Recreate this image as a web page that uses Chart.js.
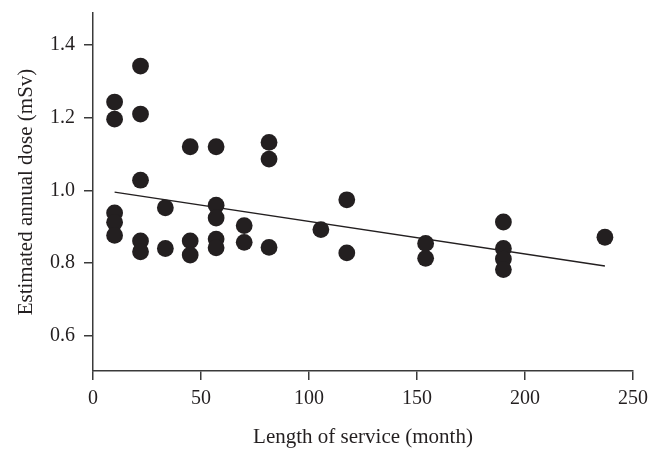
<!DOCTYPE html>
<html>
<head>
<meta charset="utf-8">
<script src="https://cdn.jsdelivr.net/npm/chart.js@4.4.0/dist/chart.umd.min.js"></script>
<style>
  html, body { margin: 0; padding: 0; background: #fff; }
  #wrap { width: 662px; height: 463px; }
</style>
</head>
<body>
<div id="wrap"><canvas id="doseChart"></canvas></div>
<script>
'use strict';

// Scatter data (month, mSv)
const serviceMonths = [
  10, 10, 10, 10, 10,
  22, 22, 22, 22, 22,
  33.5, 33.5,
  45, 45, 45,
  57, 57, 57, 57, 57,
  70, 70,
  81.5, 81.5, 81.5,
  105.5,
  117.5, 117.5,
  154, 154,
  190, 190, 190, 190,
  237
];
const annualDose = [
  1.243, 1.196, 0.938, 0.912, 0.876,
  1.342, 1.21, 1.028, 0.861, 0.831,
  0.952, 0.840,
  1.12, 0.861, 0.822,
  1.12, 0.959, 0.924, 0.866, 0.842,
  0.903, 0.857,
  1.132, 1.086, 0.843,
  0.892,
  0.974, 0.828,
  0.854, 0.813,
  0.913, 0.840, 0.811, 0.782,
  0.871
];

// Regression line end points
const fitMonths = [10, 237];
const fitDose = [0.995, 0.792];

const xTicks = [0, 50, 100, 150, 200, 250];
const yTicks = [0.6, 0.8, 1.0, 1.2, 1.4];

const ink = '#231f20';
const axisInk = '#3a3a3a';
const serif = "'Liberation Serif', 'DejaVu Serif', serif";

const toPoints = (xs, ys) => xs.map((x, i) => ({ x: x, y: ys[i] }));

const ctx = document.getElementById('doseChart').getContext('2d');
new Chart(ctx, {
  type: 'scatter',
  data: {
    datasets: [
      {
        label: 'Dose',
        data: toPoints(serviceMonths, annualDose),
        backgroundColor: ink,
        borderColor: ink,
        borderWidth: 0,
        pointRadius: 8.4,
        pointHoverRadius: 8.4,
        order: 0
      },
      {
        label: 'Fit',
        type: 'line',
        data: toPoints(fitMonths, fitDose),
        borderColor: ink,
        borderWidth: 1.4,
        pointRadius: 0,
        fill: false,
        order: 1
      }
    ]
  },
  options: {
    responsive: true,
    maintainAspectRatio: false,
    animation: false,
    layout: { padding: { top: 13, right: 29, left: 0, bottom: 0 } },
    plugins: { legend: { display: false }, tooltip: { enabled: false } },
    scales: {
      x: {
        type: 'linear',
        min: 0,
        max: 250,
        afterBuildTicks: s => { s.ticks = xTicks.map(v => ({ value: v })); },
        afterFit: s => { s.height = 92; s.paddingLeft = 0; s.paddingRight = 0; },
        border: { display: true, color: axisInk, width: 1.5 },
        grid: { drawOnChartArea: false, drawTicks: true, tickLength: 9, color: axisInk, lineWidth: 1.5 },
        ticks: { color: ink, padding: 7, font: { family: serif, size: 20 } },
        title: {
          display: true,
          text: 'Length of service (month)',
          color: ink,
          font: { family: serif, size: 21 },
          padding: { top: 0, bottom: 13 }
        }
      },
      y: {
        type: 'linear',
        min: 0.503,
        max: 1.488,
        afterBuildTicks: s => { s.ticks = yTicks.map(v => ({ value: v })); },
        afterFit: s => { s.width = 93; s.paddingTop = 0; s.paddingBottom = 0; },
        border: { display: true, color: axisInk, width: 1.5 },
        grid: { drawOnChartArea: false, drawTicks: true, tickLength: 9, color: axisInk, lineWidth: 1.5 },
        ticks: {
          color: ink,
          padding: 9,
          font: { family: serif, size: 20 },
          callback: v => Number(v).toFixed(1)
        },
        title: {
          display: true,
          text: 'Estimated annual dose (mSv)',
          color: ink,
          font: { family: serif, size: 21 },
          padding: { top: 14, bottom: 0 }
        }
      }
    }
  }
});
</script>
</body>
</html>
